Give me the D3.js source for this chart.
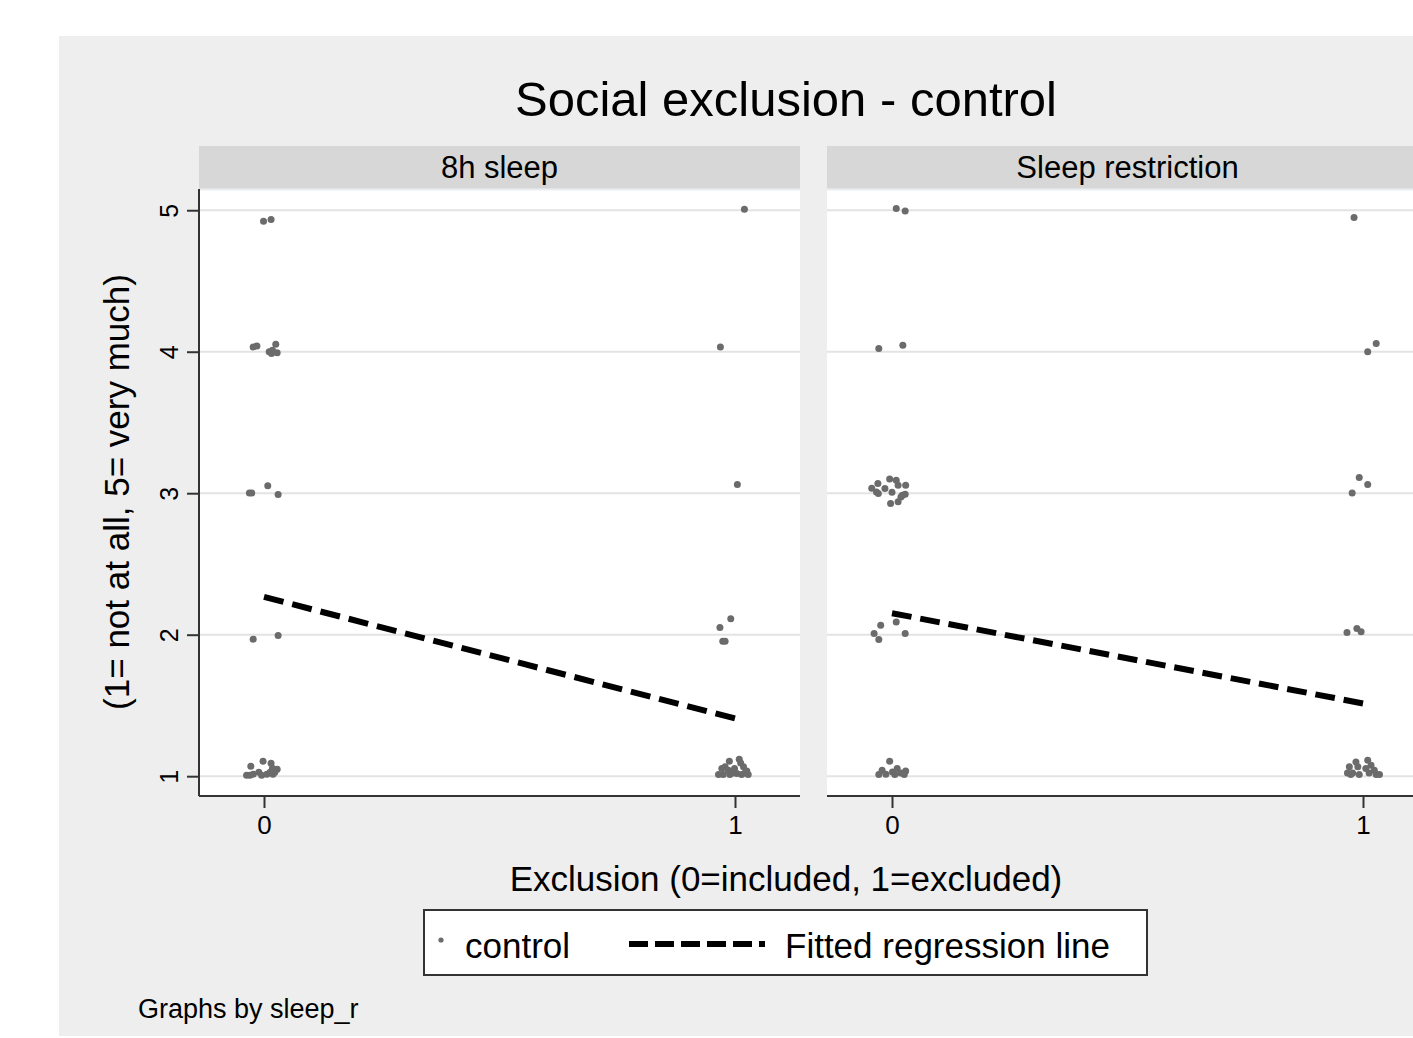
<!DOCTYPE html>
<html><head><meta charset="utf-8">
<script src="https://cdn.jsdelivr.net/npm/d3@7"></script>
<style>html,body{margin:0;padding:0;background:#fff;overflow:hidden}text{font-family:"Liberation Sans",Arial,Helvetica,sans-serif}</style>
</head><body><svg id="c" width="1413" height="1038"></svg>
<script>
const panelNames = ["8h sleep", "Sleep restriction"];
const xTicks = [0, 1];
const yTicks = [1, 2, 3, 4, 5];
// jittered points: [exclusion, rating]
const pts8h = [
 [-0.001,4.922],[0.015,4.934],
 [-0.023,4.034],[-0.015,4.041],[0.011,3.999],[0.018,4.011],[0.025,4.053],[0.028,3.992],[0.016,3.987],
 [-0.031,3.002],[-0.026,3.002],[0.008,3.052],[0.030,2.991],
 [-0.023,1.968],[0.030,1.994],
 [-0.028,1.071],[-0.002,1.106],[0.015,1.092],[-0.037,1.007],[-0.030,1.007],[-0.023,1.014],[-0.011,1.028],
 [-0.005,1.007],[0.006,1.014],[0.018,1.057],[0.023,1.028],[0.028,1.049],[0.019,1.014],[0.013,1.028],
 [1.020,5.007],[0.969,4.034],[1.005,3.061],
 [0.991,2.112],[0.968,2.051],[0.974,1.954],[0.979,1.954],
 [0.988,1.106],[1.009,1.120],[1.012,1.094],[0.972,1.054],[0.979,1.066],[0.986,1.042],[0.999,1.054],
 [1.018,1.066],[1.025,1.037],[0.965,1.012],[0.975,1.012],[0.989,1.012],[1.004,1.019],[1.014,1.012],
 [1.028,1.012],[0.996,1.023],[1.021,1.023]
];
const ptsRestr = [
 [0.009,5.012],[0.028,4.995],
 [-0.028,4.023],[0.023,4.046],
 [-0.003,2.927],[0.013,2.939],[0.022,2.986],[0.028,2.993],[-0.033,3.009],[-0.029,2.998],[-0.030,3.069],
 [-0.015,3.033],[-0.005,3.101],[0.009,3.092],[0.013,3.057],[0.029,3.057],[0.019,2.974],[-0.043,3.035],[0.000,3.007],
 [-0.024,2.067],[-0.038,2.008],[-0.028,1.966],[0.009,2.090],[0.028,2.008],
 [-0.005,1.106],[-0.021,1.042],[-0.028,1.012],[-0.013,1.014],[0.001,1.030],[0.011,1.054],[0.019,1.023],
 [0.029,1.037],[0.006,1.012],[0.026,1.012],
 [0.981,4.948],[1.028,4.058],[1.010,3.999],
 [0.992,3.111],[1.010,3.061],[0.977,3.002],
 [0.966,2.016],[0.987,2.044],[0.996,2.020],
 [0.971,1.066],[0.985,1.101],[0.989,1.066],[0.967,1.023],[0.978,1.023],[0.992,1.012],[1.010,1.113],
 [1.017,1.078],[1.024,1.042],[1.013,1.023],[1.028,1.012],[1.035,1.012],[0.974,1.012],[1.006,1.054]
];
// fitted regression line: predicted value at exclusion 0 and 1
const fit8h = [2.267, 1.408];
const fitRestr = [2.152, 1.514];
const panelPts = [pts8h, ptsRestr];
const panelFit = [fit8h, fitRestr];

const svg = d3.select("#c");
const PT = "#6b6b6b";
svg.append("rect").attr("x",59).attr("y",36).attr("width",1413).attr("height",1000).attr("fill","#eeeeee");

const plotTop = 189, plotBot = 796, stripTop = 146;
const panelX = [[199,800],[827,1428]];
const y = d3.scaleLinear().domain([0.86,5.15]).range([plotBot, plotTop]);

function fitDash(L, dash, gap){
  const n = Math.max(1, Math.round((L + gap) / (dash + gap)));
  const k = (L + gap) / (n * (dash + gap));
  return `${dash*k},${gap*k}`;
}

panelNames.forEach((name,i)=>{
  const [x0,x1] = panelX[i];
  const x = d3.scaleLinear().domain([-0.138,1.138]).range([x0,x1]);
  const g = svg.append("g");
  g.append("rect").attr("x",x0).attr("y",stripTop).attr("width",x1-x0).attr("height",plotTop-stripTop).attr("fill","#d7d7d7");
  g.append("text").attr("x",(x0+x1)/2).attr("y",178).attr("text-anchor","middle").attr("font-size",31).attr("fill","#000").text(name);
  g.append("rect").attr("x",x0).attr("y",plotTop).attr("width",x1-x0).attr("height",plotBot-plotTop).attr("fill","#fff");
  g.append("line").attr("x1",x0).attr("x2",x1).attr("y1",plotTop+0.5).attr("y2",plotTop+0.5).attr("stroke","#e9eef0").attr("stroke-width",2);
  // grid
  g.selectAll(".grid").data(yTicks).enter().append("line")
    .attr("x1",x0).attr("x2",x1).attr("y1",d=>y(d)).attr("y2",d=>y(d))
    .attr("stroke","#e3e3e3").attr("stroke-width",2);
  // points
  g.selectAll(".pt").data(panelPts[i]).enter().append("circle")
    .attr("cx",d=>x(d[0])).attr("cy",d=>y(d[1])).attr("r",3.5).attr("fill",PT);
  // fitted line
  const f = panelFit[i];
  const ax = x(0), ay = y(f[0]), bx = x(1), by = y(f[1]);
  const L = Math.hypot(bx-ax, by-ay);
  g.append("line").attr("x1",ax).attr("y1",ay).attr("x2",bx).attr("y2",by)
    .attr("stroke","#000").attr("stroke-width",6).attr("stroke-dasharray",fitDash(L,20,9));
  // x axis
  const xa = g.append("g").attr("transform",`translate(0,${plotBot})`)
    .call(d3.axisBottom(x).tickValues(xTicks).tickSize(12).tickPadding(8).tickFormat(d3.format("d")));
  xa.select(".domain").attr("stroke","#333").attr("stroke-width",2).attr("d",`M${x0},0H${x1}`);
  xa.selectAll(".tick line").attr("stroke","#333").attr("stroke-width",2);
  xa.selectAll(".tick text").attr("font-size",26).attr("fill","#000").attr("font-family","Liberation Sans, Arial, sans-serif");
  if(i===0){
    const ya = g.append("g").attr("transform",`translate(${x0},0)`)
      .call(d3.axisLeft(y).tickValues(yTicks).tickSize(12).tickPadding(8).tickFormat(d3.format("d")));
    ya.select(".domain").attr("stroke","#333").attr("stroke-width",2).attr("d",`M0,${plotTop}V${plotBot}`);
    ya.selectAll(".tick line").attr("stroke","#333").attr("stroke-width",2);
    ya.selectAll(".tick text").attr("font-size",25).attr("fill","#000").attr("font-family","Liberation Sans, Arial, sans-serif")
      .attr("x",0).attr("y",0).attr("dy","0.35em").attr("text-anchor","middle")
      .attr("transform","translate(-30,0) rotate(-90)");
  }
});

svg.append("text").attr("x",786).attr("y",116).attr("text-anchor","middle").attr("font-size",49).attr("fill","#000").text("Social exclusion - control");
svg.append("text").attr("transform","translate(129,492) rotate(-90)").attr("text-anchor","middle").attr("font-size",35).attr("fill","#000").text("(1= not at all, 5= very much)");
svg.append("text").attr("x",786).attr("y",891).attr("text-anchor","middle").attr("font-size",35).attr("fill","#000").text("Exclusion (0=included, 1=excluded)");

// legend
const lg = svg.append("g");
lg.append("rect").attr("x",424).attr("y",910).attr("width",723).attr("height",65).attr("fill","#fff").attr("stroke","#333").attr("stroke-width",2);
lg.append("circle").attr("cx",441).attr("cy",940).attr("r",2.6).attr("fill",PT);
lg.append("text").attr("x",465).attr("y",958).attr("font-size",35).attr("fill","#000").text("control");
lg.append("line").attr("x1",629).attr("x2",765).attr("y1",944).attr("y2",944).attr("stroke","#000").attr("stroke-width",6).attr("stroke-dasharray","19,7");
lg.append("text").attr("x",785).attr("y",958).attr("font-size",35).attr("fill","#000").text("Fitted regression line");

svg.append("text").attr("x",138).attr("y",1018).attr("font-size",27).attr("fill","#000").text("Graphs by sleep_r");
</script></body></html>
